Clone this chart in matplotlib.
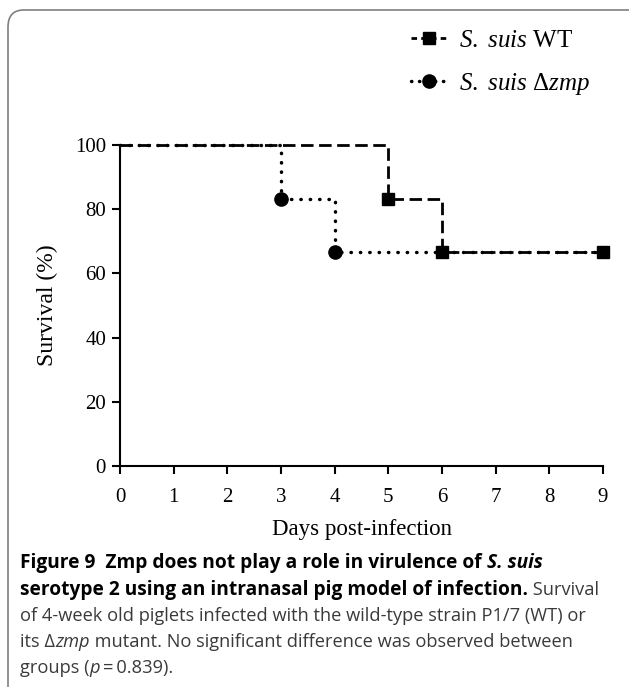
import matplotlib
matplotlib.use("Agg")
import matplotlib.pyplot as plt
from matplotlib.patches import FancyBboxPatch

plt.rcParams['font.family'] = ['Liberation Serif', 'DejaVu Serif']
plt.rcParams['mathtext.fontset'] = 'custom'
plt.rcParams['mathtext.rm'] = 'Liberation Serif'
plt.rcParams['mathtext.it'] = 'Liberation Serif:italic'

# survival data (Kaplan-Meier steps)
wt_days = [0, 5, 6, 9]
wt_surv = [100, 83.3, 66.7, 66.7]
zmp_days = [0, 3, 4, 9]
zmp_surv = [100, 83.3, 66.7, 66.7]
wt_label = r'$\it{S.\ suis}$ WT'
zmp_label = r'$\it{S.\ suis}$ $\Delta\it{zmp}$'
xticks = list(range(10))
yticks = [0, 20, 40, 60, 80, 100]

fig = plt.figure(figsize=(6.29, 6.87), dpi=100)

# rounded frame of the figure panel
frame = FancyBboxPatch((8 / 629, -0.05), 1.2, 1 - 10 / 687 + 0.05,
                       boxstyle="round,pad=0,rounding_size=0.025",
                       transform=fig.transFigure, fill=False,
                       edgecolor='#808080', lw=1.2)
fig.patches.append(frame)

ax = fig.add_axes([120 / 629, 1 - 466 / 687, 483 / 629, 321 / 687])

dashed = (0, (4.5, 2))
dotted = (0, (0.1, 2.6))
ax.step(wt_days, wt_surv, where='post', color='black', lw=2,
        linestyle=dashed, clip_on=False)
ax.plot(wt_days[1:], wt_surv[1:], 's', color='black', ms=9, clip_on=False, zorder=4)
ax.step(zmp_days, zmp_surv, where='post', color='black', lw=2.5,
        linestyle=dotted, dash_capstyle='round', clip_on=False)
ax.plot(zmp_days[1:3], zmp_surv[1:3], 'o', color='black', ms=9.5, clip_on=False, zorder=3)

ax.set_xlim(0, 9)
ax.set_ylim(0, 100)
ax.set_xticks(xticks)
ax.set_yticks(yticks)
for s in ['top', 'right']:
    ax.spines[s].set_visible(False)
for s in ['left', 'bottom']:
    ax.spines[s].set_linewidth(1.5)
ax.tick_params(direction='out', length=6, width=1.5, labelsize=15, pad=4)
ax.tick_params(axis='x', pad=9.5)
ax.set_xlabel('Days post-infection', fontsize=16.5, labelpad=9)
ax.set_ylabel('Survival (%)', fontsize=17, labelpad=12)

# legend
h1, = ax.plot([], [], color='black', lw=2, linestyle=(0, (2, 1.5)), marker='s', ms=9)
h2, = ax.plot([], [], color='black', lw=2.5, linestyle=(0, (0.1, 2.2)),
              dash_capstyle='round', marker='o', ms=9.5)
fig.legend([h1, h2], [wt_label, zmp_label], loc='upper left',
           bbox_to_anchor=(388 / 629, 1 - 7 / 687), frameon=False,
           fontsize=18, handlelength=1.5, handletextpad=0.45, labelspacing=0.75)

# caption, built from styled pieces
cap_color = '#3a3a3a'
cap_font = ['Open Sans', 'DejaVu Sans']
caption = [
    [("Figure 9  Zmp does not play a role in virulence of ", 'bold', 'normal', 'black'),
     ("S. suis", 'bold', 'italic', 'black')],
    [("serotype 2 using an intranasal pig model of infection.", 'bold', 'normal', 'black'),
     (" Survival", 'normal', 'normal', cap_color)],
    [("of 4-week old piglets infected with the wild-type strain P1/7 (WT) or", 'normal', 'normal', cap_color)],
    [("its \u0394", 'normal', 'normal', cap_color), ("zmp", 'normal', 'italic', cap_color),
     (" mutant. No significant difference was observed between", 'normal', 'normal', cap_color)],
    [("groups (", 'normal', 'normal', cap_color), ("p", 'normal', 'italic', cap_color),
     ("\u2009=\u20090.839).", 'normal', 'normal', cap_color)],
]
line_y = [563, 590, 616, 642, 668]

fig.canvas.draw()
renderer = fig.canvas.get_renderer()
for pieces, ypix in zip(caption, line_y):
    xpix = 20
    for txt, weight, style, col in pieces:
        size = 13.8 if weight == 'bold' else 13.15
        t = fig.text(xpix / 629, 1 - ypix / 687, txt, family=cap_font, fontsize=size,
                     weight=weight, style=style, color=col, va='center', ha='left')
        bb = t.get_window_extent(renderer=renderer)
        xpix += bb.width

fig.savefig('out.png', dpi=100)
